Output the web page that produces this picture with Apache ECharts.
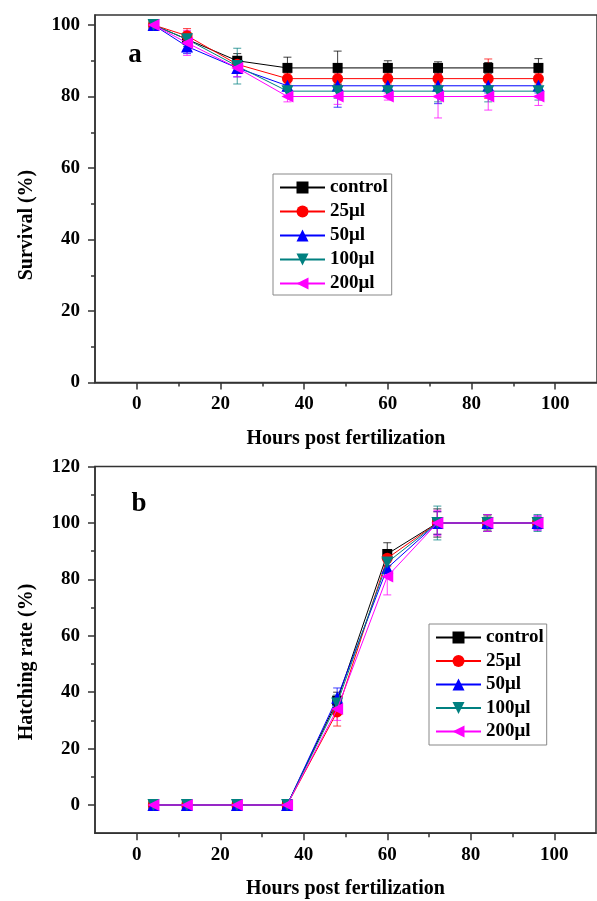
<!DOCTYPE html>
<html>
<head>
<meta charset="utf-8">
<script src="https://cdn.jsdelivr.net/npm/echarts@6/dist/echarts.min.js"></script>
<style>
  html, body { margin: 0; padding: 0; background: #fff; }
  #chart { width: 597px; height: 901px; }
</style>
</head>
<body>
<div id="chart"></div>
<script>
// Sampling times (hours post fertilization)
const hours = [4, 12, 24, 36, 48, 60, 72, 84, 96];
const groupNames = ['control', '25μl', '50μl', '100μl', '200μl'];

// Panel a: survival (%) and its standard deviation
const survControl = [100, 96, 90, 88, 88, 88, 88, 88, 88];
const surv25 = [100, 97, 89, 85, 85, 85, 85, 85, 85];
const surv50 = [100, 94, 88, 83, 83, 83, 83, 83, 83];
const surv100 = [100, 96, 88.5, 81.5, 81.5, 81.5, 81.5, 81.5, 81.5];
const surv200 = [100, 95, 88, 80, 80, 80, 80, 80, 80];
const survErrControl = [0.5, 1.5, 2, 3, 4.7, 2, 1.7, 1.5, 2.6];
const survErr25 = [0.5, 2, 2, 1.5, 1.5, 1.5, 1.5, 5.5, 1.5];
const survErr50 = [0.5, 2, 2.5, 1.5, 6, 1.5, 5, 2, 2];
const survErr100 = [0.5, 2, 5, 1.5, 2, 1.5, 3, 3, 2.5];
const survErr200 = [0.5, 3.5, 2.5, 1.5, 2.2, 1, 6, 3.8, 2.5];

// Panel b: hatching rate (%) and its standard deviation
const hatchControl = [0, 0, 0, 0, 37, 89, 100, 100, 100];
const hatch25 = [0, 0, 0, 0, 33, 87.5, 100, 100, 100];
const hatch50 = [0, 0, 0, 0, 38, 84, 100, 100, 100];
const hatch100 = [0, 0, 0, 0, 36, 86, 100, 100, 100];
const hatch200 = [0, 0, 0, 0, 34, 81, 100, 100, 100];
const hatchErrControl = [0.5, 0.5, 0.5, 0.5, 3, 4, 5, 2.5, 2];
const hatchErr25 = [0.5, 0.5, 0.5, 0.5, 5, 3, 4, 3, 2];
const hatchErr50 = [0.5, 0.5, 0.5, 0.5, 3.5, 3, 4, 3, 2.5];
const hatchErr100 = [0.5, 0.5, 0.5, 0.5, 3, 3, 6, 3, 3];
const hatchErr200 = [0.5, 0.5, 0.5, 0.5, 4, 6.5, 4.5, 3, 2.5];

// Tick positions
const xMajorTicks = [0, 20, 40, 60, 80, 100];
const xMinorTicks = [10, 30, 50, 70, 90];
const survMajorTicks = [0, 20, 40, 60, 80, 100];
const survMinorTicks = [10, 30, 50, 70, 90];
const hatchMajorTicks = [0, 20, 40, 60, 80, 100, 120];
const hatchMinorTicks = [10, 30, 50, 70, 90, 110];

const colors = ['#000000', '#ff0000', '#0000ff', '#008080', '#ff00ff'];
const symbols = ['rect', 'circle', 'triangle', 'triangle', 'triangle'];
const symbolRotates = [0, 0, 0, 180, 90];
const symbolSizes = [10, 11, 12, 12, 12];

const FONT = 'Liberation Serif';
const AXIS_COLOR = '#333';

const panels = [
  { values: [survControl, surv25, surv50, surv100, surv200],
    errors: [survErrControl, survErr25, survErr50, survErr100, survErr200] },
  { values: [hatchControl, hatch25, hatch50, hatch100, hatch200],
    errors: [hatchErrControl, hatchErr25, hatchErr50, hatchErr100, hatchErr200] }
];

function renderErrorBar(params, api) {
  const x = api.value(0);
  const lo = api.coord([x, api.value(1)]);
  const hi = api.coord([x, api.value(2)]);
  const cap = 4;
  const stroke = api.visual('color');
  const style = { stroke: stroke, lineWidth: 1, opacity: 0.75 };
  return {
    type: 'group',
    children: [
      { type: 'line', shape: { x1: lo[0], y1: lo[1], x2: hi[0], y2: hi[1] }, style: style },
      { type: 'line', shape: { x1: lo[0] - cap, y1: lo[1], x2: lo[0] + cap, y2: lo[1] }, style: style },
      { type: 'line', shape: { x1: hi[0] - cap, y1: hi[1], x2: hi[0] + cap, y2: hi[1] }, style: style }
    ]
  };
}

const series = [];
panels.forEach((panel, p) => {
  panel.values.forEach((vals, i) => {
    const errs = panel.errors[i];
    series.push({
      type: 'custom',
      name: groupNames[i] + ' sd',
      xAxisIndex: p * 2,
      yAxisIndex: p * 2,
      renderItem: renderErrorBar,
      itemStyle: { color: colors[i] },
      encode: { x: 0, y: [1, 2] },
      data: hours.map((h, k) => [h, vals[k] - errs[k], vals[k] + errs[k]]),
      z: 2 + i,
      silent: true
    });
  });
  panel.values.forEach((vals, i) => {
    series.push({
      type: 'line',
      name: groupNames[i],
      xAxisIndex: p * 2,
      yAxisIndex: p * 2,
      data: hours.map((h, k) => [h, vals[k]]),
      symbol: symbols[i],
      symbolRotate: symbolRotates[i],
      symbolSize: symbolSizes[i],
      showAllSymbol: true,
      color: colors[i],
      lineStyle: { width: 1, color: colors[i] },
      itemStyle: { color: colors[i] },
      z: 10 + i,
      animation: false
    });
  });
});

const tickLabelStyle = { fontFamily: FONT, fontWeight: 'bold', fontSize: 19, color: '#000' };

function xAxes(gridIndex) {
  return [
    {
      type: 'value', gridIndex: gridIndex, min: -10, max: 110, position: 'bottom',
      axisLine: { show: true, onZero: false, lineStyle: { color: AXIS_COLOR, width: 1.5 } },
      axisTick: { show: true, length: 7, customValues: xMajorTicks, lineStyle: { color: AXIS_COLOR, width: 1.5 } },
      axisLabel: { show: true, margin: 12, customValues: xMajorTicks, ...tickLabelStyle },
      splitLine: { show: false },
      name: 'Hours post fertilization', nameLocation: 'middle', nameGap: 46,
      nameTextStyle: { fontFamily: FONT, fontWeight: 'bold', fontSize: 20, color: '#000' }
    },
    {
      type: 'value', gridIndex: gridIndex, min: -10, max: 110, position: 'bottom',
      axisLine: { show: false, onZero: false },
      axisTick: { show: true, length: 4, customValues: xMinorTicks, lineStyle: { color: AXIS_COLOR, width: 1.5 } },
      axisLabel: { show: false },
      splitLine: { show: false }
    }
  ];
}

function yAxes(gridIndex, min, max, major, minor) {
  return [
    {
      type: 'value', gridIndex: gridIndex, min: min, max: max, position: 'left',
      axisLine: { show: true, onZero: false, lineStyle: { color: AXIS_COLOR, width: 1.5 } },
      axisTick: { show: true, length: 7, customValues: major, lineStyle: { color: AXIS_COLOR, width: 1.5 } },
      axisLabel: { show: true, margin: 15, customValues: major, ...tickLabelStyle },
      splitLine: { show: false }
    },
    {
      type: 'value', gridIndex: gridIndex, min: min, max: max, position: 'left',
      axisLine: { show: false, onZero: false },
      axisTick: { show: true, length: 4, customValues: minor, lineStyle: { color: AXIS_COLOR, width: 1.5 } },
      axisLabel: { show: false },
      splitLine: { show: false }
    }
  ];
}

const legendCommon = {
  orient: 'vertical',
  data: groupNames,
  itemWidth: 45,
  itemHeight: 15,
  borderColor: '#888',
  borderWidth: 1,
  backgroundColor: '#fff',
  textStyle: { fontFamily: FONT, fontWeight: 'bold', fontSize: 19, lineHeight: 18, color: '#000' },
  selectedMode: false
};

const titleStyle = { fontFamily: FONT, fontWeight: 'bold', fontSize: 20, fill: '#000' };

const option = {
  backgroundColor: '#fff',
  animation: false,
  grid: [
    { left: 95, top: 15, width: 503, height: 367.5, show: true, borderColor: AXIS_COLOR, borderWidth: 1.5, containLabel: false },
    { left: 95, top: 466.6, width: 501, height: 366.6, show: true, borderColor: AXIS_COLOR, borderWidth: 1.5, containLabel: false }
  ],
  xAxis: [...xAxes(0), ...xAxes(1)],
  yAxis: [
    ...yAxes(0, 0, 102.8, survMajorTicks, survMinorTicks),
    ...yAxes(1, -10, 120, hatchMajorTicks, hatchMinorTicks)
  ],
  legend: [
    Object.assign({}, legendCommon, { left: 273, top: 174, itemGap: 5, padding: [4, 4, 2, 6] }),
    Object.assign({}, legendCommon, { left: 429, top: 624, itemGap: 4.5, padding: [4, 3, 4, 6] })
  ],
  graphic: [
    { type: 'text', x: 27, y: 225, rotation: Math.PI / 2,
      style: Object.assign({ text: 'Survival (%)', align: 'center', verticalAlign: 'middle' }, titleStyle) },
    { type: 'text', x: 27, y: 662, rotation: Math.PI / 2,
      style: Object.assign({ text: 'Hatching rate (%)', align: 'center', verticalAlign: 'middle' }, titleStyle) },
    { type: 'text', x: 135, y: 55,
      style: { text: 'a', align: 'center', verticalAlign: 'middle', fontFamily: FONT, fontWeight: 'bold', fontSize: 27, fill: '#000' } },
    { type: 'text', x: 139, y: 504,
      style: { text: 'b', align: 'center', verticalAlign: 'middle', fontFamily: FONT, fontWeight: 'bold', fontSize: 27, fill: '#000' } }
  ],
  series: series
};

const chart = echarts.init(document.getElementById('chart'), null, { renderer: 'canvas' });
chart.setOption(option);
</script>
</body>
</html>
